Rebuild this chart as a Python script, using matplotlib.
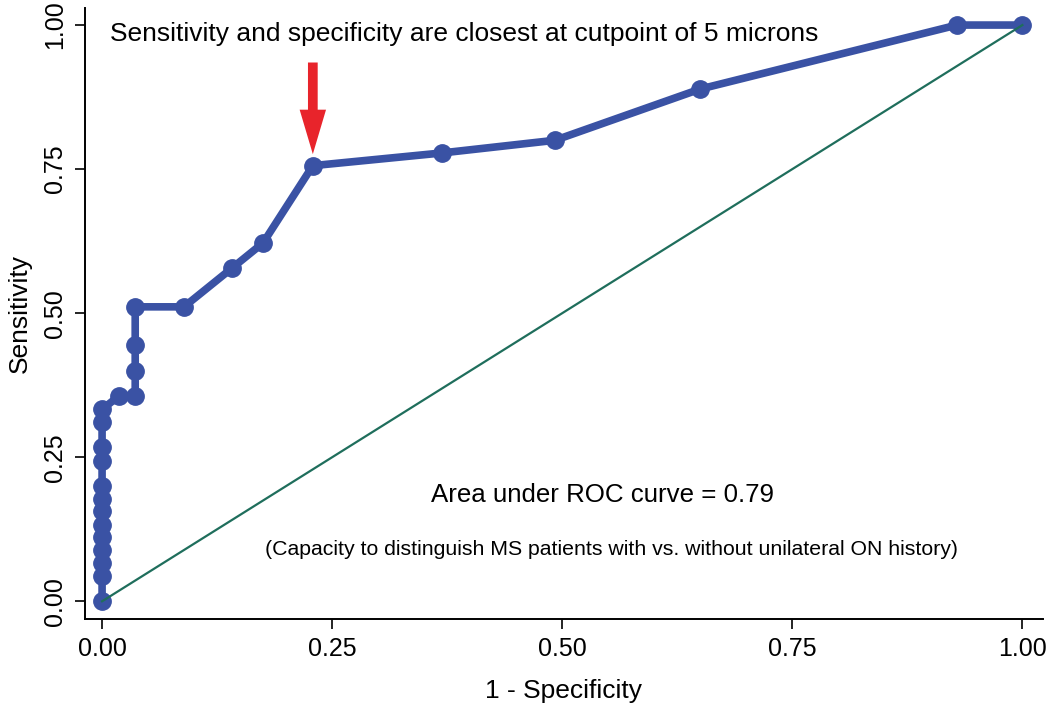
import matplotlib
matplotlib.use("Agg")
import matplotlib.pyplot as plt

plt.rcParams['font.family'] = ['Liberation Sans', 'DejaVu Sans']

# ROC curve points (1 - specificity, sensitivity)
fpr = [0, 0, 0, 0, 0, 0, 0, 0, 0, 0, 0, 0, 0,
       0.018, 0.036, 0.036, 0.036, 0.036,
       0.089, 0.141, 0.175, 0.229, 0.369, 0.492, 0.650, 0.929, 1.0]
tpr = [0, 0.044, 0.067, 0.089, 0.111, 0.133, 0.156, 0.178, 0.200, 0.244, 0.267, 0.311, 0.333,
       0.356, 0.356, 0.400, 0.444, 0.511,
       0.511, 0.578, 0.622, 0.756, 0.778, 0.800, 0.889, 1.0, 1.0]
cut_x, cut_y = 0.229, 0.756
ticks = [0, 0.25, 0.5, 0.75, 1.0]
tick_labels = ["0.00", "0.25", "0.50", "0.75", "1.00"]

blue = "#3a52a4"
green = "#1f6e5c"
red = "#e8242b"

fig = plt.figure(figsize=(10.5, 7.06), dpi=100)
ax = fig.add_axes([0.081, 0.123, 0.912, 0.866])

ax.plot(fpr, tpr, color=blue, lw=5.5, marker='o', ms=12.5, zorder=3)
ax.plot([0, 1], [0, 1], color=green, lw=1.6, zorder=4)

ax.set_xlim(-0.0185, 1.022)
ax.set_ylim(-0.031, 1.03)
ax.set_xticks(ticks)
ax.set_xticklabels(tick_labels)
ax.set_yticks(ticks)
ax.set_yticklabels(tick_labels, rotation=90, va='center')
ax.tick_params(labelsize=18, length=7, width=1.2, pad=6)
ax.spines['top'].set_visible(False)
ax.spines['right'].set_visible(False)
for s in ['left', 'bottom']:
    ax.spines[s].set_linewidth(1.4)

ax.set_xlabel("1 - Specificity", fontsize=19, labelpad=13)
ax.set_ylabel("Sensitivity", fontsize=19, labelpad=8)

ax.text(0.393, 0.985, "Sensitivity and specificity are closest at cutpoint of 5 microns",
        ha='center', va='center', fontsize=19)
ax.annotate('', xy=(cut_x, cut_y + 0.02), xytext=(cut_x, 0.935),
            arrowprops=dict(facecolor=red, edgecolor='none', width=7, headwidth=19,
                            headlength=32, shrink=0))
ax.text(0.544, 0.185, "Area under ROC curve = 0.79", ha='center', va='center', fontsize=18.6)
ax.text(0.553, 0.09, "(Capacity to distinguish MS patients with vs. without unilateral ON history)",
        ha='center', va='center', fontsize=15.3)

fig.savefig("out.png", dpi=100)
